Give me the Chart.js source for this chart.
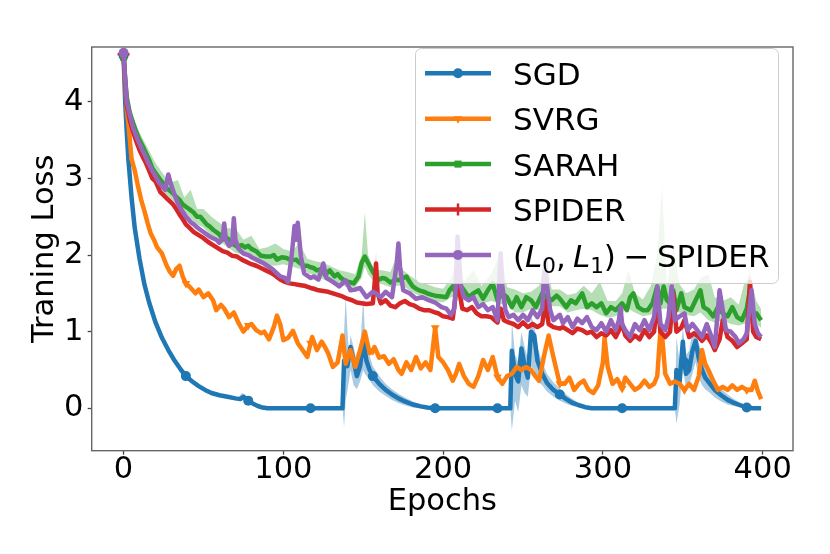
<!DOCTYPE html>
<html>
<head>
<meta charset="utf-8">
<script src="https://cdn.jsdelivr.net/npm/chart.js@4.4.1/dist/chart.umd.min.js"></script>
<style>
  html, body { margin: 0; padding: 0; background: #fff; }
  canvas { display: block; }
</style>
</head>
<body>
<canvas id="lossChart" width="830" height="554"></canvas>
<script>
// epochs on the x axis, training loss on the y axis
const xTicks = [0, 100, 200, 300, 400];
const yTicks = [0, 1, 2, 3, 4];
const legendLabels = ['SGD', 'SVRG', 'SARAH', 'SPIDER', '(L0, L1) - SPIDER'];

const sgdEpochs = [0,1,2,3,4,5,7,10,13,16,
  20,24,28,32,36,39,43,47,51,55,
  60,65,70,73,75,78,81,84,87,90,
  117,137,138,140,142,144,146,148,150,152,
  154,156,160,164,168,172,176,181,186,190,
  195,234,242,243,245,247,249,251,253,255,
  257,259,262,265,269,273,277,281,285,289,
  293,312,345,346,348,350,351,352,354,356,
  358,360,362,364,367,370,374,378,382,386,
  390,394,399];
const sgdLoss = [4.6,4.0,3.6,3.25,3.0,2.75,2.35,1.95,1.62,1.38,
  1.12,0.92,0.76,0.62,0.5,0.42,0.35,0.29,0.24,0.2,
  0.17,0.15,0.13,0.12,0.15,0.1,0.06,0.03,0.01,0,
  0,0,0.62,0.55,0.8,0.62,0.42,0.55,0.88,0.62,
  0.5,0.42,0.32,0.24,0.18,0.13,0.09,0.05,0.025,0.01,
  0,0,0,0.75,0.45,0.35,0.78,0.55,0.4,1.0,
  0.95,0.62,0.45,0.33,0.24,0.18,0.12,0.07,0.04,0.015,
  0,0,0,0.5,0.35,0.87,0.6,0.45,0.5,0.75,
  0.88,0.65,0.5,0.4,0.32,0.24,0.17,0.11,0.07,0.04,
  0.01,0,0];

const sgdBandEpochs = [70,72,74,76,78,80,83,100,
  137,138,139,141,142,144,146,148,150,151,153,156,160,164,168,172,176,181,186,190,195,220,
  242,243,245,247,249,251,253,255,257,259,262,265,269,273,277,281,285,289,293,320,
  345,346,348,350,352,354,356,358,360,362,364,367,370,374,378,382,386,390,394];
const sgdBandHigh = [0.13,0.14,0.2,0.18,0.11,0.07,0.04,null,
  0,1.0,1.45,0.7,0.95,0.8,0.6,0.75,1.45,1.0,0.75,0.55,0.42,0.32,0.25,0.19,0.14,0.09,0.05,0.02,0,null,
  0,1.15,0.7,0.6,1.0,0.8,0.65,1.19,1.1,0.8,0.6,0.45,0.34,0.26,0.18,0.12,0.07,0.03,0,null,
  0,0.93,0.6,1.05,0.7,0.75,1.0,1.02,0.85,0.7,0.55,0.45,0.35,0.26,0.18,0.12,0.07,0.03,0];
const sgdBandLow = [0.13,0.11,0.11,0.11,0.09,0.06,0.04,null,
  0,-0.25,0.1,0.35,0.5,0.3,0.25,0.35,0.5,0.45,0.4,0.3,0.22,0.16,0.11,0.07,0.04,0.01,0,0,0,null,
  0,-0.29,0.1,-0.05,0.3,0.2,0.15,0.55,0.5,0.35,0.3,0.22,0.15,0.1,0.06,0.03,0.01,0,0,null,
  0,-0.2,0.05,0.55,0.25,0.3,0.45,0.6,0.4,0.3,0.25,0.2,0.14,0.09,0.05,0.03,0.01,0,0];

const svrgEpochs = [0,1,2,3,5,7,9,11,13,15,
  17,19,21,24,27,29,31,33,35,37,
  39,42,45,47,50,53,56,58,61,63,
  66,69,72,75,78,80,83,86,88,91,
  94,96,98,100,103,106,109,112,115,117,
  118,121,124,126,128,131,134,137,139,142,
  145,148,151,154,156,157,160,163,166,169,
  172,174,177,180,183,186,189,192,195,197,
  200,203,206,208,210,213,216,219,222,225,
  228,231,234,237,240,243,246,249,252,255,
  258,260,263,266,268,270,273,276,279,282,
  285,288,291,294,297,300,301,303,306,309,
  312,314,317,320,323,326,329,332,334,336,
  337,339,342,345,348,351,354,357,360,362,
  364,366,369,372,375,378,381,384,387,390,
  393,395,397,399];
const svrgLoss = [4.6,4.2,3.9,3.72,3.25,3.1,2.9,2.72,2.58,2.42,
  2.28,2.2,2.1,2.02,1.86,1.78,1.73,1.82,1.86,1.72,
  1.63,1.57,1.5,1.55,1.45,1.5,1.41,1.28,1.35,1.3,
  1.19,1.25,1.11,1.0,1.08,1.1,1.02,0.98,1.0,0.9,
  1.06,1.21,1.1,0.89,0.92,1.01,0.85,0.76,0.67,0.85,
  0.93,0.76,0.87,0.8,0.72,0.54,0.6,0.95,0.58,0.76,
  0.54,0.76,1.0,0.72,0.75,0.8,0.66,0.68,0.58,0.64,
  0.5,0.45,0.6,0.5,0.67,0.52,0.6,0.5,1.05,0.67,
  0.6,0.5,0.36,0.45,0.58,0.42,0.32,0.28,0.42,0.63,
  0.5,0.67,0.41,0.32,0.42,0.45,0.54,0.5,0.54,0.5,
  0.41,0.36,0.67,0.95,0.76,0.58,0.32,0.32,0.4,0.24,
  0.32,0.36,0.24,0.2,0.3,0.6,0.92,0.54,0.32,0.38,
  0.26,0.4,0.32,0.24,0.28,0.36,0.28,0.32,0.42,1.02,
  0.95,0.45,0.32,0.35,0.32,0.24,0.32,0.24,0.42,0.76,
  0.58,0.5,0.36,0.24,0.28,0.24,0.3,0.24,0.28,0.24,
  0.24,0.36,0.22,0.12];

const sarahEpochs = [0,1,2,4,6,8,10,12,14,16,
  18,20,23,25,27,29,31,33,35,37,
  39,41,44,46,48,50,52,54,56,58,
  60,62,65,68,71,74,76,78,80,83,
  86,89,92,94,96,99,102,105,108,110,
  113,115,117,119,121,124,126,129,132,134,
  136,139,141,144,147,149,151,153,156,158,
  160,162,164,167,170,173,175,177,179,181,
  183,185,188,190,193,195,199,202,204,206,
  208,210,213,216,219,222,225,228,231,234,
  237,240,243,246,249,252,255,258,262,265,
  268,271,273,277,280,283,287,290,293,296,
  299,302,305,308,312,315,317,319,322,325,
  328,331,334,336,338,340,342,344,346,349,
  351,355,358,361,363,366,369,372,375,378,
  381,384,387,390,392,394,396,399];
const sarahLoss = [4.58,4.3,4.05,3.85,3.72,3.6,3.5,3.42,3.33,3.24,
  3.13,3.07,2.98,2.93,2.87,2.84,2.8,2.76,2.72,2.66,
  2.63,2.6,2.55,2.5,2.5,2.45,2.4,2.37,2.33,2.3,
  2.27,2.2,2.22,2.15,2.11,2.13,2.1,2.12,2.08,2.05,
  1.99,1.98,1.98,2.0,1.94,1.97,1.96,1.93,1.94,1.9,
  1.86,1.86,1.84,1.83,1.8,1.82,1.74,1.8,1.72,1.75,
  1.7,1.66,1.65,1.63,1.72,1.9,1.98,1.9,1.78,1.72,
  1.68,1.7,1.69,1.64,1.68,1.67,1.7,1.72,1.65,1.59,
  1.56,1.54,1.52,1.5,1.48,1.47,1.46,1.45,1.54,1.59,
  1.5,1.63,1.54,1.45,1.5,1.54,1.43,1.54,1.63,1.41,
  1.5,1.45,1.32,1.45,1.32,1.45,1.41,1.32,1.5,1.45,
  1.41,1.47,1.43,1.32,1.41,1.37,1.5,1.32,1.37,1.32,
  1.37,1.24,1.32,1.28,1.37,1.28,1.45,1.5,1.32,1.28,
  1.28,1.37,1.59,1.37,1.59,1.41,1.37,1.54,1.28,1.5,
  1.32,1.28,1.41,1.54,1.32,1.28,1.2,1.32,1.24,1.2,
  1.32,1.19,1.15,1.3,1.54,1.19,1.24,1.15];

const sarahBandEpochs = [0,5,10,15,20,25,30,34,38,42,
  46,50,55,60,65,70,75,80,85,90,
  95,100,105,110,115,120,125,130,135,140,
  145,149,151,153,157,162,167,171,175,180,
  185,190,195,200,205,209,213,219,224,230,
  236,240,245,250,255,260,264,268,273,278,
  283,288,293,298,303,308,312,316,320,325,
  330,334,337,340,344,348,352,357,361,366,
  370,375,380,385,388,392,396,399];
const sarahBandHigh = [4.6,3.85,3.6,3.4,3.2,3.05,2.95,2.98,2.75,2.85,
  2.6,2.6,2.5,2.42,2.35,2.35,2.2,2.25,2.08,2.1,
  2.15,2.08,2.05,2.15,1.95,1.92,1.9,1.85,1.8,1.78,
  1.75,2.0,2.55,2.0,1.8,1.8,1.78,2.0,1.8,1.72,
  1.65,1.62,1.58,1.56,1.7,1.95,1.65,1.8,1.6,1.75,
  2.05,1.58,1.55,1.5,1.52,1.6,1.95,1.55,1.55,1.48,
  1.5,1.6,1.5,1.65,1.4,1.4,1.5,1.8,1.5,1.42,
  1.6,2.0,2.9,1.6,2.1,1.62,1.5,1.55,1.7,1.75,
  1.45,1.4,1.45,1.35,1.6,1.75,1.4,1.3];
const sarahBandLow = [4.55,3.7,3.42,3.2,2.98,2.82,2.72,2.66,2.52,2.47,
  2.4,2.36,2.25,2.18,2.1,2.03,2.0,1.98,1.88,1.87,
  1.86,1.88,1.85,1.82,1.77,1.73,1.68,1.65,1.62,1.58,
  1.58,1.7,1.85,1.75,1.64,1.62,1.58,1.6,1.6,1.52,
  1.47,1.43,1.4,1.38,1.45,1.48,1.45,1.4,1.36,1.4,
  1.36,1.36,1.25,1.25,1.3,1.28,1.35,1.33,1.33,1.25,
  1.28,1.3,1.28,1.22,1.18,1.2,1.25,1.3,1.25,1.2,
  1.22,1.3,1.3,1.3,1.25,1.25,1.22,1.2,1.25,1.15,
  1.12,1.15,1.1,1.08,1.1,1.12,1.1,1.05];

const spiderEpochs = [0,1,2,4,6,8,10,12,14,16,
  18,20,23,25,27,29,31,33,35,37,
  39,41,44,47,50,53,56,59,62,65,
  68,71,74,78,80,83,86,89,92,95,
  98,101,104,107,110,113,117,119,122,125,
  128,131,134,137,140,143,146,149,152,156,
  157,158,159,161,164,167,170,173,176,179,
  182,185,188,191,195,197,200,203,206,208,
  209,210,212,215,218,221,224,227,230,234,
  236,238,241,244,247,250,253,256,259,262,
  264,266,269,273,275,278,281,284,287,290,
  293,296,299,302,305,308,312,314,317,320,
  323,326,329,332,334,336,339,342,344,346,
  349,351,354,357,360,362,365,368,370,373,
  375,378,381,384,387,390,392,394,396,399];
const spiderLoss = [4.62,4.25,3.95,3.75,3.6,3.48,3.37,3.28,3.2,3.1,
  3.0,2.96,2.82,2.78,2.74,2.7,2.66,2.6,2.53,2.47,
  2.4,2.36,2.3,2.26,2.22,2.17,2.13,2.09,2.05,2.03,
  1.99,1.98,1.94,1.9,1.88,1.86,1.83,1.8,1.77,1.73,
  1.68,1.65,1.63,1.62,1.61,1.6,1.57,1.56,1.54,1.53,
  1.52,1.5,1.48,1.46,1.43,1.41,1.38,1.37,1.36,1.37,
  1.6,1.89,1.5,1.37,1.41,1.34,1.32,1.37,1.4,1.36,
  1.34,1.3,1.28,1.28,1.25,1.24,1.2,1.19,1.17,1.5,
  1.95,1.55,1.3,1.28,1.32,1.24,1.2,1.2,1.19,1.12,
  1.3,1.15,1.12,1.1,1.06,1.12,1.06,1.1,1.06,1.1,
  1.4,1.1,1.06,1.04,1.06,1.02,0.98,1.04,1.02,0.98,
  1.0,0.93,0.98,0.95,1.02,0.93,1.1,0.95,0.88,0.95,
  0.9,1.02,0.93,1.0,1.4,1.0,0.93,1.0,1.5,1.0,
  1.05,1.15,0.93,0.98,0.93,0.88,0.95,0.85,0.76,0.9,
  1.15,0.93,0.88,0.8,0.85,0.9,1.65,1.0,0.93,0.9];

const spiderBandEpochs = [155,157,158,159,161,180,206,208,209,210,212,300,
  342,343,344,345,346,370,390,391,392,393,394];
const spiderBandHigh = [1.42,1.7,2.05,1.6,1.42,null,1.22,1.7,2.28,1.75,1.35,null,
  1.05,1.4,1.78,1.4,1.05,null,0.95,1.4,1.9,1.4,1.05];
const spiderBandLow = [1.32,1.4,1.5,1.4,1.32,null,1.12,1.3,1.55,1.35,1.25,null,
  0.95,1.1,1.2,1.05,0.95,null,0.85,1.0,1.3,1.0,0.95];

const l0l1Epochs = [0,1,2,4,6,8,10,12,14,16,
  18,20,22,24,26,28,30,32,34,36,
  39,42,44,46,48,50,52,54,56,58,
  60,62,63,64,66,68,69,70,72,75,
  78,81,84,87,90,93,96,98,101,103,
  105,107,108,109,111,113,117,119,122,125,
  127,131,135,139,142,145,148,152,156,158,
  161,164,168,171,172,173,175,179,183,187,
  191,195,199,202,205,207,208,209,210,211,
  213,216,219,222,225,228,231,234,235,236,
  237,239,241,244,247,250,253,256,259,262,
  263,264,265,267,269,273,275,278,281,284,
  287,290,293,296,299,302,305,308,310,311,
  312,314,317,320,323,326,329,332,334,336,
  339,341,343,345,348,351,353,356,359,362,
  365,368,370,373,375,377,380,383,385,388,
  390,393,395,397,399];
const l0l1Loss = [4.64,4.3,4.0,3.82,3.66,3.55,3.45,3.36,3.27,3.18,
  3.1,3.03,2.95,2.9,2.85,3.05,2.9,2.78,2.67,2.6,
  2.5,2.43,2.4,2.36,2.33,2.3,2.27,2.24,2.22,2.2,
  2.16,2.22,2.41,2.2,2.12,2.15,2.48,2.2,2.08,2.02,
  2.0,1.96,1.93,1.9,1.86,1.82,1.76,1.72,1.7,1.65,
  1.95,2.38,2.2,2.42,1.98,1.76,1.7,1.72,1.68,1.89,
  1.7,1.65,1.59,1.67,1.54,1.55,1.57,1.45,1.52,1.5,
  1.45,1.52,1.45,1.9,2.15,1.85,1.54,1.5,1.43,1.45,
  1.41,1.38,1.32,1.3,1.22,1.3,1.63,2.24,1.95,1.6,
  1.45,1.41,1.45,1.32,1.36,1.28,1.32,1.15,1.6,2.02,
  1.6,1.28,1.19,1.22,1.15,1.22,1.15,1.28,1.19,1.3,
  1.7,1.93,1.6,1.28,1.15,1.22,1.11,1.19,1.06,1.17,
  1.11,1.19,1.06,1.02,1.11,1.0,1.15,1.02,1.15,1.32,
  1.1,1.02,0.93,1.1,1.02,1.15,1.02,1.19,1.59,1.1,
  1.02,1.19,1.59,1.15,1.2,1.24,1.02,1.1,1.02,0.93,
  1.1,0.93,0.8,1.54,1.28,1.02,1.0,0.93,0.85,0.9,
  0.98,1.54,1.1,0.98,0.93];

const FONT = 'DejaVu Sans';
const BLUE = '#1f77b4', ORANGE = '#ff7f0e', GREEN = '#2ca02c', RED = '#d62728', PURPLE = '#9467bd';
const markEvery = 39;

Chart.defaults.font.family = FONT;
Chart.defaults.color = '#000';

function pts(xs, ys) {
  return xs.map((x, i) => ({ x: x, y: ys[i] }));
}

function lineSet(label, color, xs, ys, marker, order) {
  return {
    label: label,
    data: pts(xs, ys),
    borderColor: color,
    backgroundColor: color,
    borderWidth: 4.5,
    borderJoinStyle: 'round',
    pointStyle: marker.style,
    pointRotation: marker.rotation || 0,
    pointBorderWidth: marker.border || 0,
    pointRadius: ctx => {
      if (!ctx.raw) return 0;
      const step = marker.every || 1000;
      return ctx.raw.x % step === 0 ? marker.radius : 0;
    },
    fill: false,
    tension: 0,
    order: order
  };
}

function bandSets(xs, hi, lo, color, order, lowIndex) {
  return [
    { data: pts(xs, hi), borderWidth: 0, pointRadius: 0, backgroundColor: color,
      fill: { target: lowIndex }, tension: 0, order: order },
    { data: pts(xs, lo), borderWidth: 0, pointRadius: 0, fill: false, tension: 0, order: order }
  ];
}

const markers = [
  { style: 'circle', radius: 5, every: markEvery },
  { style: 'triangle', radius: 5, rotation: 180, every: markEvery },
  { style: 'rect', radius: 5 },
  { style: 'cross', radius: 6, border: 2.5 },
  { style: 'circle', radius: 5 }
];
const colors = [BLUE, ORANGE, GREEN, RED, PURPLE];

const datasets = [
  ...bandSets(sgdBandEpochs, sgdBandHigh, sgdBandLow, 'rgba(31,119,180,0.38)', 20, 1),
  ...bandSets(sarahBandEpochs, sarahBandHigh, sarahBandLow, 'rgba(44,160,44,0.35)', 18, 3),
  ...bandSets(spiderBandEpochs, spiderBandHigh, spiderBandLow, 'rgba(214,39,40,0.25)', 17, 5),
  lineSet(legendLabels[0], BLUE, sgdEpochs, sgdLoss, markers[0], 9),
  lineSet(legendLabels[1], ORANGE, svrgEpochs, svrgLoss, markers[1], 8),
  lineSet(legendLabels[2], GREEN, sarahEpochs, sarahLoss, markers[2], 7),
  lineSet(legendLabels[3], RED, spiderEpochs, spiderLoss, markers[3], 6),
  lineSet(legendLabels[4], PURPLE, l0l1Epochs, l0l1Loss, markers[4], 5)
];

// spines plus a matplotlib style legend box
const frameAndLegend = {
  id: 'frameAndLegend',
  afterDatasetsDraw(chart) {
    const a = chart.chartArea, c = chart.ctx;
    c.save();
    c.strokeStyle = '#666';
    c.lineWidth = 1.4;
    c.strokeRect(a.left, a.top, a.right - a.left, a.bottom - a.top);
    c.restore();
  },
  afterDraw(chart) {
    const c = chart.ctx;
    c.save();
    c.beginPath();
    c.roundRect(415.5, 48.5, 363, 235, 6);
    c.fillStyle = 'rgba(255,255,255,0.8)';
    c.fill();
    c.strokeStyle = '#cccccc';
    c.lineWidth = 1;
    c.stroke();

    for (let i = 0; i < legendLabels.length; i++) {
      const y = 73.3 + i * 45.4;
      c.strokeStyle = colors[i];
      c.fillStyle = colors[i];
      c.lineWidth = 4.5;
      c.beginPath();
      c.moveTo(425, y);
      c.lineTo(491, y);
      c.stroke();
      const m = markers[i];
      c.lineWidth = m.border || 1;
      Chart.helpers.drawPoint(c, {
        pointStyle: m.style, radius: m.radius, rotation: m.rotation || 0,
        borderWidth: m.border || 0
      }, 458, y);

      c.fillStyle = '#000';
      c.textBaseline = 'alphabetic';
      c.textAlign = 'left';
      const base = y + 11.7;
      if (i < 4) {
        c.font = '31px ' + FONT;
        c.fillText(legendLabels[i], 513, base);
      } else {
        drawMathLabel(c, 513, base);
      }
    }
    c.restore();
  }
};

// (L_0, L_1) - SPIDER with italic L and subscripts
function drawMathLabel(c, x, base) {
  const norm = '31px ' + FONT;
  const ital = 'oblique 31px ' + FONT;
  const sub = '21.5px ' + FONT;
  const parts = [
    ['(', norm, 0, 0], ['L', ital, 0, 0], ['0', sub, 6, 0],
    [',', norm, 0, 7], ['L', ital, 0, 0], ['1', sub, 6, 0],
    [')', norm, 0, 7.5], ['\u2212', norm, 0, 7.5], ['SPIDER', norm, 0, 0]
  ];
  let cx = x;
  for (const [t, f, dy, gap] of parts) {
    c.font = f;
    c.fillText(t, cx, base + dy);
    cx += c.measureText(t).width + gap;
  }
}

new Chart(document.getElementById('lossChart'), {
  type: 'line',
  data: { datasets: datasets },
  plugins: [frameAndLegend],
  options: {
    responsive: false,
    animation: false,
    events: [],
    layout: { padding: { left: 0, top: 47, right: 37, bottom: 0 } },
    plugins: { legend: { display: false }, tooltip: { enabled: false } },
    scales: {
      x: {
        type: 'linear',
        min: -19.95,
        max: 418.95,
        afterBuildTicks: s => { s.ticks = xTicks.map(v => ({ value: v })); },
        afterFit: s => { s.height = 103.3; },
        ticks: { font: { size: 30.5 }, color: '#000', padding: -3, maxRotation: 0, autoSkip: false },
        grid: { drawOnChartArea: false, tickLength: 4, color: '#444', tickWidth: 1.3 },
        border: { display: false },
        title: { display: true, text: 'Epochs', font: { size: 30.5 }, color: '#000',
                 padding: { top: 0, bottom: 33.5 } }
      },
      y: {
        type: 'linear',
        min: -0.553,
        max: 4.714,
        afterBuildTicks: s => { s.ticks = yTicks.map(v => ({ value: v })); },
        afterFit: s => { s.width = 91.7; },
        ticks: { font: { size: 30.5 }, color: '#000', padding: 4.4 },
        grid: { drawOnChartArea: false, tickLength: 4, color: '#444', tickWidth: 1.3 },
        border: { display: false },
        title: { display: true, text: 'Traning Loss', font: { size: 30.5 }, color: '#000',
                 padding: { top: 26.7, bottom: 0 } }
      }
    }
  }
});
</script>
</body>
</html>
